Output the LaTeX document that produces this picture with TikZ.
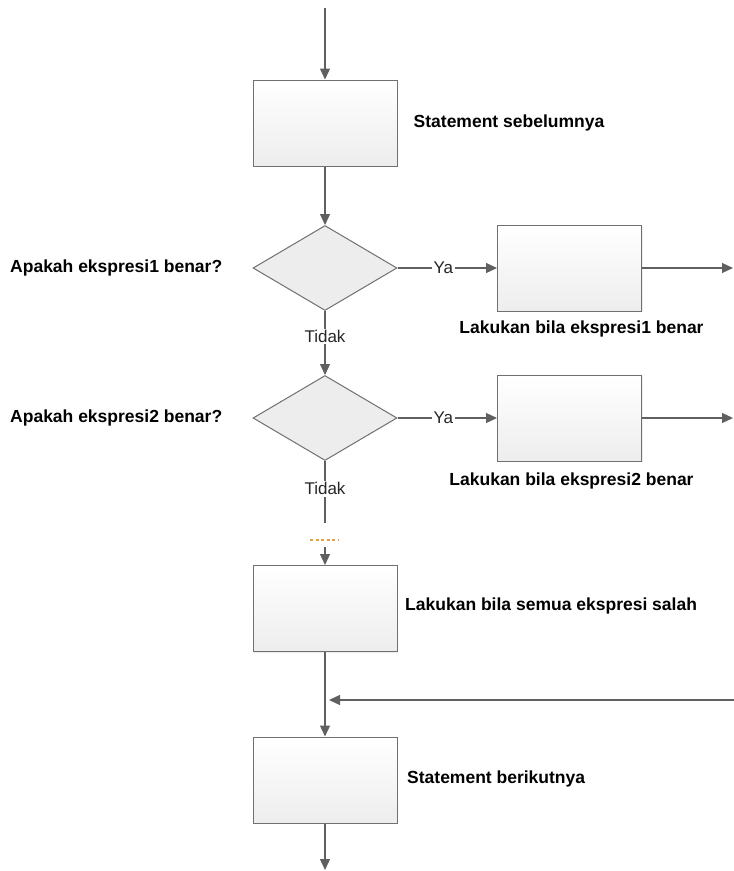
\documentclass[tikz,border=0pt]{standalone}
\usepackage{fontspec}
\setmainfont{Liberation Sans}
\usetikzlibrary{arrows.meta,shapes.geometric,shadows,positioning}

\definecolor{linegray}{HTML}{606060}
\definecolor{boxedge}{HTML}{707070}
\definecolor{dotorange}{HTML}{E8A040}

\tikzset{
  block/.style={draw=boxedge, line width=1pt, minimum width=144pt, minimum height=86pt,
                top color=white, bottom color=gray!14,
                drop shadow={shadow xshift=1.2pt, shadow yshift=-1.2pt, opacity=0.15}},
  decision/.style={diamond, draw=boxedge, line width=1pt, fill=gray!14,
                   minimum width=144pt, minimum height=85pt, inner sep=0pt},
  lbl/.style={font=\bfseries\fontsize{17.5}{20}\selectfont, inner sep=0pt},
  answer/.style={font=\fontsize{17}{20}\selectfont, text=black!85, fill=white, inner sep=1.5pt},
  conn/.style={draw=linegray, line width=1.2pt}
}

\begin{document}
\begin{tikzpicture}[x=1pt, y=-1pt, >={Triangle[length=11pt,width=10pt]}]
    \useasboundingbox (0,0) rectangle (734,871);

    % Nodes {prev, cond1, do1, cond2, do2, doelse, next}
    \coordinate                 (top)     at (325,8);
    \node [block]               (prev)    at (325,123)   {};
    \node [decision]            (cond1)   at (325,268)   {};
    \node [block]               (do1)     at (569.5,268) {};
    \coordinate                 (out1)    at (733,268);
    \node [decision]            (cond2)   at (325,418)   {};
    \node [block]               (do2)     at (569.5,418) {};
    \coordinate                 (out2)    at (733,418);
    \coordinate                 (gapA)    at (325,523);
    \coordinate                 (dotsL)   at (310,540);
    \coordinate                 (dotsR)   at (338,540);
    \coordinate                 (gapB)    at (325,547);
    \node [block]               (doelse)  at (325,608.5) {};
    \coordinate                 (join)    at (325,700);
    \coordinate                 (back)    at (734,700);
    \node [block]               (next)    at (325,780)   {};
    \coordinate                 (bottom)  at (325,870);

    % Labels
    \node [lbl, right=16pt of prev]                 (prevtxt) {Statement sebelumnya};
    \node [lbl, anchor=west]    (q1txt)   at (10,268)  {Apakah ekspresi1 benar?};
    \node [lbl, below=9pt of do1, xshift=12pt]      (do1txt)  {Lakukan bila ekspresi1 benar};
    \node [lbl, anchor=west]    (q2txt)   at (10,418)  {Apakah ekspresi2 benar?};
    \node [lbl, below=11pt of do2, xshift=2pt]      (do2txt)  {Lakukan bila ekspresi2 benar};
    \node [lbl, anchor=west]    (elsetxt) at (405,606) {Lakukan bila semua ekspresi salah};
    \node [lbl, anchor=west]    (nexttxt) at (407,779) {Statement berikutnya};

    % Paths
    \path (top)    edge [conn, ->]                        (prev);
    \path (prev)   edge [conn, ->]                        (cond1);
    \path (cond1)  edge [conn, ->] node [answer, pos=0.46] {Ya}    (do1);
    \path (do1)    edge [conn, ->]                        (out1);
    \path (cond1)  edge [conn, ->] node [answer, pos=0.4]  {Tidak} (cond2);
    \path (cond2)  edge [conn, ->] node [answer, pos=0.46] {Ya}    (do2);
    \path (do2)    edge [conn, ->]                        (out2);
    \path (cond2)  edge [conn]     node [answer, pos=0.45] {Tidak} (gapA);
    \draw [dotorange, line width=1.3pt, dash pattern=on 3pt off 2.5pt] (dotsL) -- (dotsR);
    \path (gapB)   edge [conn, ->]                        (doelse);
    \path (doelse) edge [conn, ->]                        (next);
    \path (back)   edge [conn, ->, shorten >=4pt]         (join);
    \path (next)   edge [conn, ->]                        (bottom);

\end{tikzpicture}
\end{document}
